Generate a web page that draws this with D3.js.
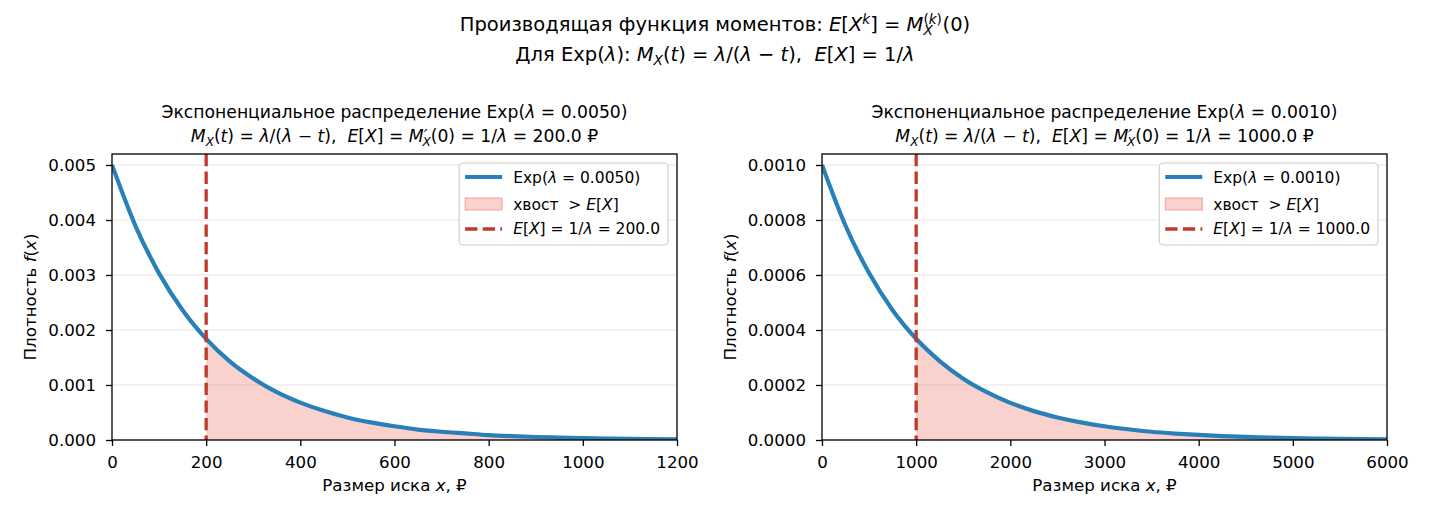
<!DOCTYPE html>
<html>
<head>
<meta charset="utf-8">
<script src="https://cdn.jsdelivr.net/npm/d3@7"></script>
<style>
  body { margin: 0; background: #fff; }
  svg text { font-family: 'DejaVu Sans', sans-serif; fill: #000; white-space: pre; }
</style>
</head>
<body>
<svg id="chart" width="1430" height="520"></svg>
<script>
// values
var lambdas = [0.005, 0.001];
var means = [200, 1000];

var leftX = [0, 50, 100, 150, 200, 250, 300, 350, 400, 450, 500, 550, 600,
             650, 700, 750, 800, 850, 900, 950, 1000, 1050, 1100, 1150, 1200];
var leftDensity = [0.00500, 0.00389, 0.00303, 0.00236, 0.00184, 0.00143, 0.00112,
                   0.00087, 0.00068, 0.00053, 0.00041, 0.00032, 0.00025, 0.00019,
                   0.00015, 0.00012, 0.00009, 0.00007, 0.000055, 0.000043,
                   0.000034, 0.000026, 0.00002, 0.000016, 0.000012];

var rightX = [0, 250, 500, 750, 1000, 1250, 1500, 1750, 2000, 2250, 2500, 2750, 3000,
              3250, 3500, 3750, 4000, 4250, 4500, 4750, 5000, 5250, 5500, 5750, 6000];
var rightDensity = [0.00100, 0.000779, 0.000607, 0.000472, 0.000368, 0.000287,
                    0.000223, 0.000174, 0.000135, 0.000105, 0.000082, 0.000064,
                    0.000050, 0.000039, 0.000030, 0.0000235, 0.0000183, 0.0000143,
                    0.0000111, 0.0000087, 0.0000067, 0.0000052, 0.0000041,
                    0.0000032, 0.0000025];

var leftXTicks = [0, 200, 400, 600, 800, 1000, 1200];
var rightXTicks = [0, 1000, 2000, 3000, 4000, 5000, 6000];
var leftYTicks = [0, 0.001, 0.002, 0.003, 0.004, 0.005];
var rightYTicks = [0, 0.0002, 0.0004, 0.0006, 0.0008, 0.0010];

var xLabel = "Размер иска ";
var yLabel = "Плотность ";
var titleLine1 = "Экспоненциальное распределение Exp(";
var tailLabel = "хвост ";

var BLUE = "#2980b9", RED = "#c0392b", FILL = "rgba(231,76,60,0.25)";

var svg = d3.select("#chart");

// mathtext-ish helper: parts = [[text, kind, dx]]
// kinds: "" upright, "i" italic, "sup"/"supi" superscript, "sub"/"subi" subscript
function rich(textSel, parts, fs) {
  var cur = 0;
  parts.forEach(function(p) {
    var kind = p[1] || "";
    var target = 0, size = fs;
    if (kind.indexOf("sup") === 0) { target = -0.38 * fs; size = 0.7 * fs; }
    if (kind.indexOf("sub") === 0) { target = 0.22 * fs; size = 0.7 * fs; }
    var ts = textSel.append("tspan").text(p[0]).attr("font-size", size);
    if (target !== cur) { ts.attr("dy", target - cur); cur = target; }
    if (p[2]) ts.attr("dx", p[2] * fs);
    if (kind === "i" || kind === "supi" || kind === "subi") ts.attr("font-style", "italic");
  });
  return textSel;
}

// suptitle
var supFs = 19.5;
rich(svg.append("text").attr("x", 715).attr("y", 31).attr("text-anchor", "middle").attr("font-size", supFs), [
  ["Производящая функция моментов: "], ["E", "i"], ["["], ["X", "i"], ["k", "supi"], ["] = "],
  ["M", "i"], ["(", "sup"], ["k", "supi"], [")", "sup"], ["X", "subi", -0.95], ["(0)", "", 0.5]
], supFs);
rich(svg.append("text").attr("x", 715).attr("y", 61).attr("text-anchor", "middle").attr("font-size", supFs), [
  ["Для Exp("], ["λ", "i"], ["): "], ["M", "i"], ["X", "subi"], ["("], ["t", "i"], [") = "],
  ["λ", "i"], ["/("], ["λ", "i"], [" − "], ["t", "i"], ["),  "], ["E", "i"], ["["], ["X", "i"],
  ["] = 1/"], ["λ", "i"]
], supFs);

var panels = [
  {left: 112, right: 677, xs: leftX, ys: leftDensity, xTicks: leftXTicks, yTicks: leftYTicks,
   yMax: 0.0052, yFmt: d3.format(".3f"), lambda: lambdas[0], mean: means[0], yLabelX: 36},
  {left: 822, right: 1387, xs: rightX, ys: rightDensity, xTicks: rightXTicks, yTicks: rightYTicks,
   yMax: 0.00104, yFmt: d3.format(".4f"), lambda: lambdas[1], mean: means[1], yLabelX: 736}
];
var plotTop = 154, plotBottom = 440;
var fs = 16.67, legFs = 15.5, titleFs = 17.2;

panels.forEach(function(p, i) {
  var data = p.xs.map(function(x, k) { return {x: x, y: p.ys[k]}; });
  var x = d3.scaleLinear().domain([p.xTicks[0], p.xTicks[p.xTicks.length - 1]]).range([p.left, p.right]);
  var y = d3.scaleLinear().domain([0, p.yMax]).range([plotBottom, plotTop]);
  var g = svg.append("g");

  g.append("clipPath").attr("id", "clip" + i).append("rect")
    .attr("x", p.left).attr("y", plotTop).attr("width", p.right - p.left).attr("height", plotBottom - plotTop);

  // grid
  g.selectAll(".grid").data(p.yTicks).enter().append("line")
    .attr("x1", p.left).attr("x2", p.right)
    .attr("y1", function(d) { return y(d); }).attr("y2", function(d) { return y(d); })
    .attr("stroke", "#e6e6e6").attr("stroke-width", 1.1);

  var plot = g.append("g").attr("clip-path", "url(#clip" + i + ")");
  var tail = data.filter(function(d) { return d.x >= p.mean; });
  plot.append("path").datum(tail)
    .attr("d", d3.area().x(function(d) { return x(d.x); }).y0(y(0)).y1(function(d) { return y(d.y); })
      .curve(d3.curveMonotoneX))
    .attr("fill", FILL);
  plot.append("path").datum(data)
    .attr("d", d3.line().x(function(d) { return x(d.x); }).y(function(d) { return y(d.y); })
      .curve(d3.curveMonotoneX))
    .attr("fill", "none").attr("stroke", BLUE).attr("stroke-width", 4.2);
  plot.append("line")
    .attr("x1", x(p.mean)).attr("x2", x(p.mean)).attr("y1", plotTop).attr("y2", plotBottom)
    .attr("stroke", RED).attr("stroke-width", 3.3).attr("stroke-dasharray", "12.3,5.3");

  // axes
  var xa = g.append("g").attr("transform", "translate(0," + plotBottom + ")")
    .call(d3.axisBottom(x).tickValues(p.xTicks).tickFormat(d3.format("d")).tickSize(6).tickSizeOuter(0).tickPadding(10));
  xa.select(".domain").remove();
  xa.selectAll("text").attr("font-size", fs).attr("font-family", null).attr("dy", "0.71em").attr("y", 16);
  xa.selectAll("line").attr("stroke-width", 1.3);
  var ya = g.append("g").attr("transform", "translate(" + p.left + ",0)")
    .call(d3.axisLeft(y).tickValues(p.yTicks).tickFormat(p.yFmt).tickSize(6).tickSizeOuter(0).tickPadding(10));
  ya.select(".domain").remove();
  ya.selectAll("text").attr("font-size", fs).attr("font-family", null);
  ya.selectAll("line").attr("stroke-width", 1.3);

  g.append("rect").attr("x", p.left).attr("y", plotTop).attr("width", p.right - p.left).attr("height", plotBottom - plotTop)
    .attr("fill", "none").attr("stroke", "#000").attr("stroke-width", 1.3);

  var cx = (p.left + p.right) / 2;
  rich(g.append("text").attr("x", cx).attr("y", 491).attr("text-anchor", "middle").attr("font-size", fs),
    [[xLabel], ["x", "i"], [", ₽"]], fs);
  rich(g.append("text").attr("transform", "translate(" + p.yLabelX + "," + ((plotTop + plotBottom) / 2) + ") rotate(-90)")
    .attr("text-anchor", "middle").attr("font-size", fs),
    [[yLabel], ["f", "i"], ["("], ["x", "i"], [")"]], fs);

  var lamStr = d3.format(".4f")(p.lambda);
  var meanStr = d3.format(".1f")(p.mean);
  rich(g.append("text").attr("x", cx).attr("y", 118).attr("text-anchor", "middle").attr("font-size", titleFs),
    [[titleLine1], ["λ", "i"], [" = " + lamStr + ")"]], titleFs);
  rich(g.append("text").attr("x", cx).attr("y", 142).attr("text-anchor", "middle").attr("font-size", titleFs), [
    ["M", "i"], ["X", "subi"], ["("], ["t", "i"], [") = "], ["λ", "i"], ["/("], ["λ", "i"], [" − "], ["t", "i"],
    ["),  "], ["E", "i"], ["["], ["X", "i"], ["] = "], ["M", "i"], ["′", "i"], ["X", "subi", -0.3],
    ["(0) = 1/"], ["λ", "i"], [" = " + meanStr + " ₽"]
  ], titleFs);

  // legend
  var leg = g.append("g");
  var box = leg.append("rect").attr("y", 163).attr("height", 82).attr("rx", 4)
    .attr("fill", "rgba(255,255,255,0.8)").attr("stroke", "#cccccc").attr("stroke-width", 1.1);
  var rows = [
    {y: 183, parts: [["Exp("], ["λ", "i"], [" = " + lamStr + ")"]]},
    {y: 210, parts: [[tailLabel], [" > "], ["E", "i"], ["["], ["X", "i"], ["]"]]},
    {y: 234, parts: [["E", "i"], ["["], ["X", "i"], ["] = 1/"], ["λ", "i"], [" = " + meanStr]]}
  ];
  var texts = rows.map(function(r) {
    return rich(leg.append("text").attr("y", r.y).attr("font-size", legFs), r.parts, legFs);
  });
  var maxW = d3.max(texts, function(t) { return t.node().getComputedTextLength(); });
  var boxW = 6 + 37 + 11 + maxW + 8;
  var bx = p.right - 9 - boxW;
  box.attr("x", bx).attr("width", boxW);
  var hx = bx + 6;
  texts.forEach(function(t) { t.attr("x", hx + 37 + 11); });
  leg.append("line").attr("x1", hx).attr("x2", hx + 37).attr("y1", 177).attr("y2", 177)
    .attr("stroke", BLUE).attr("stroke-width", 4.2);
  leg.append("rect").attr("x", hx).attr("y", 198).attr("width", 37).attr("height", 12)
    .attr("fill", FILL).attr("stroke", "rgba(231,76,60,0.35)").attr("stroke-width", 1.3);
  leg.append("line").attr("x1", hx).attr("x2", hx + 37).attr("y1", 229).attr("y2", 229)
    .attr("stroke", RED).attr("stroke-width", 3.3).attr("stroke-dasharray", "12.3,5.3");
});
</script>
</body>
</html>
